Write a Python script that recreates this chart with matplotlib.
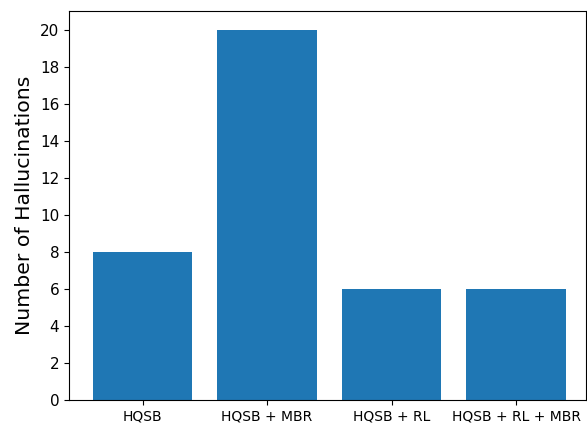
import matplotlib
matplotlib.use("Agg")
import matplotlib.pyplot as plt

methods = ["HQSB", "HQSB + MBR", "HQSB + RL", "HQSB + RL + MBR"]
hallucinations = [8, 20, 6, 6]

W, H = 587, 423
fig = plt.figure(figsize=(W / 100, H / 100), dpi=100)
ax = fig.add_axes([69 / W, (H - 400) / H, (586 - 69) / W, (400 - 11) / H])

ax.bar(range(len(methods)), hallucinations, width=0.8, color="#1f77b4")
ax.set_xticks(range(len(methods)))
ax.set_xticklabels(methods, fontsize=10)
ax.tick_params(axis="y", labelsize=11)
ax.set_yticks(range(0, 21, 2))
ax.set_xlim(-0.59, 3.56)
ax.set_ylim(0, 21)
ax.set_ylabel("Number of Hallucinations", fontsize=14.7)

fig.savefig("out.png", dpi=100)
